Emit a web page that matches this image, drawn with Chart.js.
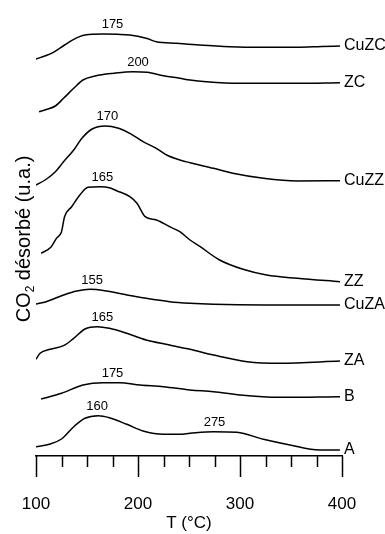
<!DOCTYPE html>
<html>
<head>
<meta charset="utf-8">
<script src="https://cdn.jsdelivr.net/npm/chart.js@4.4.0/dist/chart.umd.min.js"></script>
<style>
  html, body { margin: 0; padding: 0; background: #fff; }
</style>
</head>
<body>
<canvas id="myChart" width="385" height="534"></canvas>
<script>
// Courbes TPD du CO2 : température (°C) et signal (u.a., décalé par échantillon)
var cuzcT = [100, 110, 117, 128, 137, 148, 166, 180, 192, 208, 218, 238, 260, 290, 320, 356, 380, 398];
var cuzcY = [397, 400.5, 403.7, 411, 416.7, 421, 422, 421.7, 421, 417.7, 414.3, 412.7, 411, 409.3, 408.7, 408.7, 409.5, 410];

var zcT = [103, 110, 119, 127, 137, 146, 158, 176, 195, 209, 225, 241, 251, 267, 300, 356, 398];
var zcY = [344.3, 346.5, 350, 357.7, 367.7, 376, 380, 382.7, 384.3, 383.7, 380.3, 377.7, 376, 374.3, 372.7, 372.7, 373.3];

var cuzzT = [100, 109, 119, 127, 137, 145, 155, 168, 181, 192, 205, 218, 228, 241, 251, 274, 293, 323, 356, 398];
var cuzzY = [271, 276, 284.3, 294.3, 306, 317.7, 327, 330, 327.7, 322.7, 314.3, 307.7, 301, 296, 293.3, 287.7, 282.7, 277.7, 275, 275.3];

var zzT = [105, 115, 120, 125, 128, 135, 143, 151, 163, 172, 179, 192, 199, 207, 218, 231, 241, 251, 261, 280, 303, 326, 356, 398];
var zzY = [202.7, 209.3, 217.7, 224.3, 239.3, 249.3, 261, 268.7, 269.3, 268.3, 265.3, 259.3, 252.7, 239.3, 236, 229.3, 224.3, 216, 209.3, 196, 186.7, 181, 177.7, 174.3];

var cuzaT = [100, 110, 127, 140, 153, 169, 186, 208, 231, 251, 274, 323, 398];
var cuzaY = [152, 154.3, 161, 165, 166.7, 165, 161.7, 157.7, 154.3, 152.7, 151.7, 151, 151];

var zaT = [100, 104, 114, 127, 137, 148, 160, 172, 189, 208, 231, 241, 251, 274, 307, 339, 398];
var zaY = [96.7, 102.7, 106.7, 110.3, 117.7, 127, 129.3, 127.7, 122.7, 116, 111, 108.7, 106.7, 101, 94.3, 92.7, 95];

var bT = [105, 125, 146, 166, 182, 202, 225, 251, 274, 300, 339, 398];
var bY = [57, 62.7, 71, 73.3, 73.3, 71, 69.3, 66, 64.3, 61, 58.7, 59.3];

var aT = [100, 114, 125, 137, 148, 161, 172, 189, 205, 225, 241, 251, 274, 297, 323, 349, 378, 398];
var aY = [9.3, 12, 17, 29.3, 37.7, 40.3, 38.3, 31.7, 25, 21.7, 21.7, 22.7, 24.3, 23.7, 16.7, 11, 6, 6];

var seriesNames = ['CuZC', 'ZC', 'CuZZ', 'ZZ', 'CuZA', 'ZA', 'B', 'A'];
var seriesT = [cuzcT, zcT, cuzzT, zzT, cuzaT, zaT, bT, aT];
var seriesY = [cuzcY, zcY, cuzzY, zzY, cuzaY, zaY, bY, aY];

// températures des maxima annotées sur les courbes
var peakSeries = ['CuZC', 'ZC', 'CuZZ', 'ZZ', 'CuZA', 'ZA', 'B', 'A', 'A'];
var peakTemps = [175, 200, 170, 165, 155, 165, 175, 160, 275];

var tickLabels = [100, 200, 300, 400];

var FONT = '"Liberation Sans", Arial, Helvetica, sans-serif';

function valueAt(ds, t) {
    var d = ds.data;
    for (var i = 1; i < d.length; i++) {
        if (d[i].x >= t) {
            var k = (t - d[i - 1].x) / (d[i].x - d[i - 1].x);
            return d[i - 1].y + k * (d[i].y - d[i - 1].y);
        }
    }
    return d[d.length - 1].y;
}

var decor = {
    id: 'decor',
    afterDatasetsDraw: function(chart) {
        var ctx = chart.ctx;
        var xs = chart.scales.x, ys = chart.scales.y;
        var area = chart.chartArea;
        ctx.save();
        ctx.strokeStyle = '#000';
        ctx.fillStyle = '#000';

        // graduations (longues tous les 100 °C)
        ctx.lineWidth = 1.5;
        xs.ticks.forEach(function(t) {
            var px = Math.round(xs.getPixelForValue(t.value)) + 0.5;
            var len = tickLabels.indexOf(t.value) >= 0 ? 21 : 11;
            ctx.beginPath();
            ctx.moveTo(px, area.bottom);
            ctx.lineTo(px, area.bottom + len);
            ctx.stroke();
        });

        // nom de chaque échantillon au bout de sa courbe
        ctx.font = '16px ' + FONT;
        ctx.textAlign = 'left';
        ctx.textBaseline = 'middle';
        chart.data.datasets.forEach(function(ds) {
            var last = ds.data[ds.data.length - 1];
            ctx.fillText(ds.label, xs.getPixelForValue(last.x) + 4, ys.getPixelForValue(last.y));
        });

        // températures des pics
        ctx.font = '13px ' + FONT;
        ctx.textAlign = 'center';
        ctx.textBaseline = 'alphabetic';
        peakTemps.forEach(function(t, i) {
            var ds = chart.data.datasets[seriesNames.indexOf(peakSeries[i])];
            ctx.fillText(String(t), xs.getPixelForValue(t), ys.getPixelForValue(valueAt(ds, t)) - 6);
        });

        // titre de l'axe Y avec CO2 en indice
        ctx.translate(30, 239);
        ctx.rotate(-Math.PI / 2);
        var big = '20px ' + FONT, small = '12px ' + FONT;
        ctx.font = big;
        var w1 = ctx.measureText('CO').width;
        var w3 = ctx.measureText(' désorbé (u.a.)').width;
        ctx.font = small;
        var w2 = ctx.measureText('2').width;
        var x0 = -(w1 + w2 + w3) / 2;
        ctx.textAlign = 'left';
        ctx.font = big;
        ctx.fillText('CO', x0, 0);
        ctx.font = small;
        ctx.fillText('2', x0 + w1, 4);
        ctx.font = big;
        ctx.fillText(' désorbé (u.a.)', x0 + w1 + w2, 0);
        ctx.restore();
    }
};

var ctx = document.getElementById('myChart').getContext('2d');
var myChart = new Chart(ctx, {
    type: 'line',
    data: {
        datasets: seriesNames.map(function(name, i) {
            return {
                label: name,
                data: seriesT[i].map(function(t, j) { return { x: t, y: seriesY[i][j] }; }),
                borderColor: '#000',
                borderWidth: 1.5,
                pointRadius: 0,
                fill: false,
                cubicInterpolationMode: 'monotone'
            };
        })
    },
    options: {
        responsive: false,
        animation: false,
        devicePixelRatio: 1,
        layout: { padding: { left: 36, right: 43, top: 0, bottom: 0 } },
        plugins: { legend: { display: false }, tooltip: { enabled: false } },
        scales: {
            x: {
                type: 'linear',
                min: 100,
                max: 400,
                grid: { display: false, drawTicks: false },
                border: { display: true, color: '#000', width: 1.5 },
                ticks: {
                    stepSize: 25,
                    autoSkip: false,
                    maxRotation: 0,
                    padding: 38,
                    color: '#000',
                    font: { size: 17, family: FONT },
                    callback: function(v) { return tickLabels.indexOf(v) >= 0 ? String(v) : ''; }
                },
                title: {
                    display: true,
                    text: 'T (°C)',
                    color: '#000',
                    font: { size: 17, family: FONT },
                    padding: { top: 0, bottom: 0 }
                },
                afterFit: function(scale) {
                    scale.height = 78;
                    scale.paddingLeft = 0;
                    scale.paddingRight = 0;
                }
            },
            y: {
                type: 'linear',
                display: false,
                min: 0,
                max: 456
            }
        }
    },
    plugins: [decor]
});
</script>
</body>
</html>
